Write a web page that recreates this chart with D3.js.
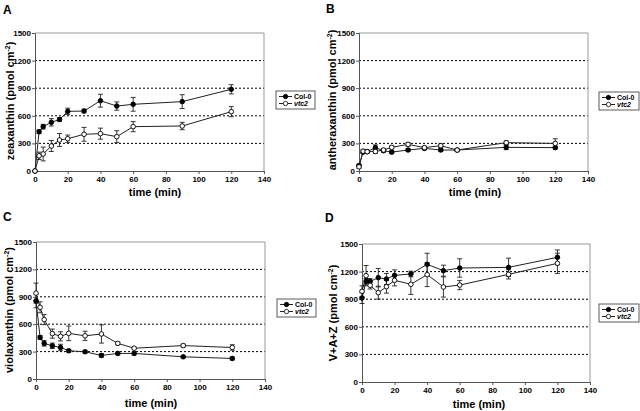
<!DOCTYPE html>
<html>
<head>
<meta charset="utf-8">
<script src="https://cdn.jsdelivr.net/npm/d3@7"></script>
<style>
  html, body { margin: 0; padding: 0; background: #fff; }
  svg { display: block; font-family: "Liberation Sans", Arial, sans-serif; }
</style>
</head>
<body>
<svg id="chart" width="640" height="411"></svg>
<script>
// ---- data ----
const times = [0, 2.5, 5, 10, 15, 20, 30, 40, 50, 60, 90, 120];
const xTicks = [0, 20, 40, 60, 80, 100, 120, 140];
const yTicks = [0, 300, 600, 900, 1200, 1500];
const seriesNames = ["Col-0", "vtc2"];

// A: zeaxanthin
const zeaCol    = [0, 427, 482, 529, 560, 648, 652, 764, 706, 725, 754, 888];
const zeaColErr = [0, 20, 25, 40, 20, 35, 20, 70, 45, 75, 75, 50];
const zeaVtc    = [0, 165, 185, 272, 337, 351, 399, 406, 373, 482, 489, 645];
const zeaVtcErr = [0, 40, 75, 60, 70, 40, 75, 60, 65, 55, 40, 55];

// B: antheraxanthin
const antCol    = [60, 205, 210, 254, 221, 205, 228, 246, 228, 228, 257, 254];
const antColErr = [10, 15, 15, 30, 15, 15, 15, 15, 15, 10, 25, 15];
const antVtc    = [45, 215, 210, 212, 228, 257, 290, 254, 275, 228, 308, 300];
const antVtcErr = [15, 20, 15, 20, 15, 15, 20, 15, 20, 10, 20, 50];

// C: violaxanthin
const vioCol    = [855, 455, 390, 363, 345, 309, 298, 258, 280, 280, 243, 225];
const vioColErr = [75, 20, 30, 30, 35, 15, 15, 20, 15, 15, 10, 15];
const vioVtc    = [940, 785, 650, 497, 467, 500, 473, 493, 390, 337, 366, 345];
const vioVtcErr = [110, 60, 55, 50, 50, 80, 50, 100, 15, 10, 15, 30];

// D: V+A+Z
const sumCol    = [913, 1094, 1094, 1134, 1120, 1159, 1174, 1279, 1210, 1239, 1246, 1355];
const sumColErr = [60, 30, 30, 100, 60, 60, 30, 120, 60, 100, 100, 80];
const sumVtc    = [986, 1156, 1051, 971, 1036, 1105, 1062, 1167, 1033, 1054, 1170, 1290];
const sumVtcErr = [60, 110, 40, 70, 70, 60, 110, 130, 110, 50, 50, 110];

// ---- drawing ----
const svg = d3.select("#chart");
svg.append("rect").attr("width", 640).attr("height", 411).attr("fill", "#fff");

function drawPanel(cfg) {
  const g = svg.append("g");
  const x = d3.scaleLinear().domain([0, 140]).range([cfg.left, cfg.right]);
  const y = d3.scaleLinear().domain([0, 1500]).range([cfg.bottom, cfg.top]);

  // gridlines (dotted)
  g.selectAll(".grid").data(yTicks.filter(v => v > 0 && v < 1500)).enter()
    .append("line")
    .attr("x1", cfg.left).attr("x2", cfg.right)
    .attr("y1", d => y(d)).attr("y2", d => y(d))
    .attr("stroke", "#000").attr("stroke-width", 1)
    .attr("stroke-dasharray", "2,2");

  // plot border (top / right)
  g.append("path")
    .attr("d", `M${cfg.left},${cfg.top}H${cfg.right}V${cfg.bottom}`)
    .attr("fill", "none").attr("stroke", "#999").attr("stroke-width", 1);

  // axes
  const fmt = d3.format("d");
  const yAxis = d3.axisLeft(y).tickValues(yTicks).tickFormat(fmt).tickSize(3).tickPadding(1);
  const xAxis = d3.axisBottom(x).tickValues(xTicks).tickFormat(fmt).tickSize(3).tickPadding(2);
  const ya = g.append("g").attr("transform", `translate(${cfg.left},0)`).call(yAxis);
  const xa = g.append("g").attr("transform", `translate(0,${cfg.bottom})`).call(xAxis);
  [ya, xa].forEach(a => {
    a.select(".domain").attr("stroke", "#555");
    a.selectAll(".tick line").attr("stroke", "#555");
    a.selectAll("text").attr("font-size", 8).attr("font-weight", "bold")
      .attr("fill", "#000").attr("font-family", "Liberation Sans, Arial, sans-serif");
  });

  // axis titles
  g.append("text")
    .attr("x", cfg.xTitleX).attr("y", cfg.xTitleY)
    .attr("text-anchor", "middle").attr("font-size", 11).attr("font-weight", "bold")
    .text("time (min)");
  const yt = g.append("text")
    .attr("transform", `translate(${cfg.yTitleX},${cfg.yTitleY}) rotate(-90)`)
    .attr("text-anchor", "middle").attr("font-size", 11).attr("font-weight", "bold");
  yt.append("tspan").text(cfg.yTitle + " (pmol cm");
  yt.append("tspan").attr("dy", -4).attr("font-size", 7).text("-2");
  yt.append("tspan").attr("dy", 4).text(")");

  // panel letter
  g.append("text").attr("x", cfg.letterX).attr("y", cfg.letterY)
    .attr("font-size", 12).attr("font-weight", "bold").text(cfg.letter);

  const series = [
    { name: seriesNames[0], vals: cfg.col, err: cfg.colErr, fill: "#000" },
    { name: seriesNames[1], vals: cfg.vtc, err: cfg.vtcErr, fill: "#fff" }
  ];
  const line = d3.line().x(d => x(d.t)).y(d => y(d.v));

  series.forEach(s => {
    const pts = times.map((t, i) => ({ t, v: s.vals[i], e: s.err[i] }));
    g.append("path").datum(pts).attr("d", line)
      .attr("fill", "none").attr("stroke", "#222").attr("stroke-width", 1);
    const eb = g.append("g").attr("stroke", "#222").attr("stroke-width", 0.9);
    pts.filter(p => p.e > 0).forEach(p => {
      eb.append("line").attr("x1", x(p.t)).attr("x2", x(p.t))
        .attr("y1", y(p.v - p.e)).attr("y2", y(p.v + p.e));
      [p.v - p.e, p.v + p.e].forEach(v => {
        eb.append("line").attr("x1", x(p.t) - 2.5).attr("x2", x(p.t) + 2.5)
          .attr("y1", y(v)).attr("y2", y(v));
      });
    });
    s.pts = pts;
  });
  series.forEach(s => {
    g.append("g").selectAll("circle").data(s.pts).enter().append("circle")
      .attr("cx", d => x(d.t)).attr("cy", d => y(d.v)).attr("r", 2.3)
      .attr("fill", s.fill).attr("stroke", "#000").attr("stroke-width", 0.9);
  });

  // legend
  const lg = g.append("g").attr("transform", `translate(${cfg.legX},${cfg.legY})`);
  lg.append("rect").attr("width", cfg.legW).attr("height", 18)
    .attr("fill", "#fff").attr("stroke", "#333").attr("stroke-width", 0.8);
  series.forEach((s, i) => {
    const yy = 5.5 + i * 7;
    lg.append("line").attr("x1", 3).attr("x2", 16).attr("y1", yy).attr("y2", yy)
      .attr("stroke", "#222").attr("stroke-width", 1);
    lg.append("circle").attr("cx", 9.5).attr("cy", yy).attr("r", 2.2)
      .attr("fill", s.fill).attr("stroke", "#000").attr("stroke-width", 0.8);
    lg.append("text").attr("x", 18).attr("y", yy + 2.5)
      .attr("font-size", 7).attr("font-weight", "bold")
      .attr("font-style", i === 1 ? "italic" : "normal")
      .text(s.name);
  });
}

drawPanel({ letter: "A", letterX: 3, letterY: 14,
  left: 35, right: 264, top: 33, bottom: 171,
  xTitleX: 155, xTitleY: 196, yTitleX: 14, yTitleY: 101,
  yTitle: "zeaxanthin", legX: 276, legY: 91, legW: 39,
  col: zeaCol, colErr: zeaColErr, vtc: zeaVtc, vtcErr: zeaVtcErr });

drawPanel({ letter: "B", letterX: 326, letterY: 13,
  left: 359, right: 588, top: 33, bottom: 171,
  xTitleX: 475, xTitleY: 196, yTitleX: 336, yTitleY: 100,
  yTitle: "antheraxanthin", legX: 599, legY: 92, legW: 40,
  col: antCol, colErr: antColErr, vtc: antVtc, vtcErr: antVtcErr });

drawPanel({ letter: "C", letterX: 3, letterY: 221,
  left: 36, right: 265, top: 242, bottom: 379,
  xTitleX: 151, xTitleY: 407, yTitleX: 13, yTitleY: 310,
  yTitle: "violaxanthin", legX: 277, legY: 299, legW: 39,
  col: vioCol, colErr: vioColErr, vtc: vioVtc, vtcErr: vioVtcErr });

drawPanel({ letter: "D", letterX: 325, letterY: 222,
  left: 362, right: 590, top: 244, bottom: 382,
  xTitleX: 479, xTitleY: 408, yTitleX: 337, yTitleY: 313,
  yTitle: "V+A+Z", legX: 599, legY: 304, legW: 40,
  col: sumCol, colErr: sumColErr, vtc: sumVtc, vtcErr: sumVtcErr });
</script>
</body>
</html>
